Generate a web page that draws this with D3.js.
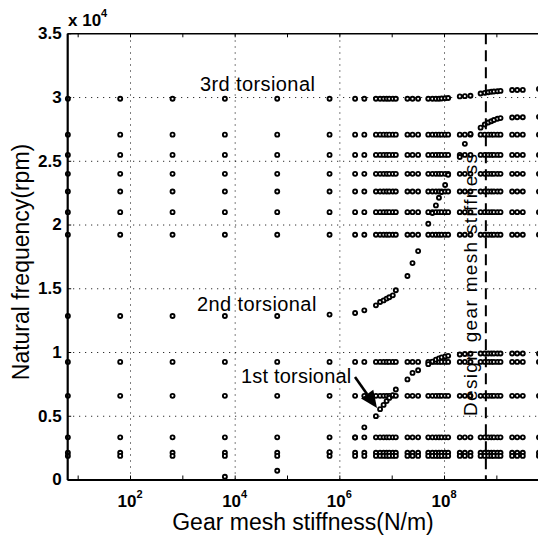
<!DOCTYPE html>
<html>
<head>
<meta charset="utf-8">
<script src="https://cdn.jsdelivr.net/npm/d3@7"></script>
<style>
  html, body { margin: 0; padding: 0; background: #fff; overflow: hidden; }
  svg { display: block; font-family: "Liberation Sans", Arial, Helvetica, sans-serif; }
</style>
</head>
<body>
<svg id="chart" width="538" height="540"></svg>
<script>
// gear mesh stiffness sweep (N/m)
const stiffness = [6.5, 65, 650, 6500, 65000, 650000,
    2e6, 3e6,
    5e6, 6e6, 7e6, 8e6, 9e6, 1.05e7, 1.2e7, 2e7, 2.5e7, 3.2e7,
    5e7, 6e7, 7e7, 8e7, 9e7, 1.05e8, 1.2e8, 2e8, 2.5e8, 3.2e8,
    5e8, 6e8, 7e8, 8e8, 9e8, 1.05e9, 1.2e9, 2e9, 2.5e9, 3.2e9,
    6.5e9];

// modes that stay put over the whole sweep (rpm)
const rowFreqs = [27050, 25460, 23975, 22590, 20970, 19200, 9225, 6560, 3305, 2100, 1850];

// modes that move with stiffness (rpm), one value per stiffness
const torsional1 = [null, null, null, 219, 689, 2150,
    3300, 4090,
    4970, 5520, 5850, 6150, 6400, 6620, 7060, 7850, 8360, 8570,
    9050, 9250, 9400, 9500, 9580, 9650, 9700, 9800, 9840, 9860,
    9880, 9880, 9880, 9880, 9880, 9880, 9880, 9880, 9880, 9880,
    9880];
const torsional2 = [12830, 12830, 12830, 12830, 12830, 12935,
    13060, 13270,
    13660, 13920, 14050, 14190, 14300, 14445, 14840, 15960, 16975, 17915,
    20060, 20900, 21500, 22100, 22550, 23100, 23900, 25300, 26330, 27100,
    27600, 27850, 28000, 28100, 28200, 28300, 28350, 28400, 28410, 28420,
    28450];
const torsional3 = [29870, 29870, 29870, 29870, 29870, 29870,
    29870, 29870,
    29870, 29870, 29870, 29870, 29870, 29870, 29870, 29870, 29870, 29870,
    29870, 29870, 29870, 29870, 29880, 29900, 29920, 30050, 30070, 30100,
    30280, 30330, 30380, 30420, 30440, 30460, 30480, 30550, 30550, 30560,
    30640];

const designStiffness = 6.3e8;

const xDecades = [1e1, 1e2, 1e3, 1e4, 1e5, 1e6, 1e7, 1e8, 1e9];
const xLabelDecades = [1e2, 1e4, 1e6, 1e8];
const yTicks = [0, 5000, 10000, 15000, 20000, 25000, 30000, 35000];
const yGrid = [5000, 10000, 15000, 20000, 25000, 30000];

const svg = d3.select("#chart");
const plotL = 67.2, plotR = 548.7, plotT = 33.3, plotB = 479.5;

const x = d3.scaleLog().domain([Math.pow(10, 0.8), 1e10]).range([plotL, plotR]);
const y = d3.scaleLinear().domain([0, 35000]).range([plotB, plotT]);

// dotted grid
svg.append("g")
    .attr("transform", `translate(0,${plotB})`)
    .call(d3.axisBottom(x).tickValues(xLabelDecades).tickSize(-(plotB - plotT)).tickFormat(""))
    .call(g => g.select(".domain").remove())
    .selectAll("line").attr("stroke", "#000").attr("stroke-dasharray", "1,5");

svg.append("g")
    .attr("transform", `translate(${plotL},0)`)
    .call(d3.axisLeft(y).tickValues(yGrid).tickSize(-(plotR - plotL)).tickFormat(""))
    .call(g => g.select(".domain").remove())
    .selectAll("line").attr("stroke", "#000").attr("stroke-dasharray", "1,5");

// natural frequency points
const points = [];
stiffness.forEach((k, i) => {
    rowFreqs.forEach(f => points.push([k, f]));
    [torsional1, torsional2, torsional3].forEach(s => {
        if (s[i] != null) points.push([k, s[i]]);
    });
});

svg.append("g")
    .selectAll("circle")
    .data(points)
    .join("circle")
    .attr("cx", d => x(d[0]))
    .attr("cy", d => y(d[1]))
    .attr("r", 2)
    .attr("fill", "#fff")
    .attr("stroke", "#000")
    .attr("stroke-width", 1.9);

// design stiffness marker
svg.append("line")
    .attr("x1", x(designStiffness)).attr("x2", x(designStiffness))
    .attr("y1", plotT).attr("y2", plotB)
    .attr("stroke", "#000")
    .attr("stroke-width", 2)
    .attr("stroke-dasharray", "11,6");

svg.append("text")
    .attr("transform", `translate(${x(designStiffness) - 9},416) rotate(-90)`)
    .attr("font-size", 19)
    .attr("textLength", 262)
    .attr("lengthAdjust", "spacing")
    .text("Design gear mesh stiffness");

// mode labels
svg.append("text").attr("x", 200).attr("y", 91).attr("font-size", 20)
    .attr("letter-spacing", 0.4).text("3rd torsional");
svg.append("text").attr("x", 197).attr("y", 310.5).attr("font-size", 20)
    .attr("letter-spacing", 0.4).text("2nd torsional");
svg.append("text").attr("x", 241).attr("y", 383).attr("font-size", 20)
    .attr("letter-spacing", 0.2).text("1st torsional");

// arrow to 1st torsional
const a0 = [355, 377], a1 = [377, 408];
const ang = Math.atan2(a1[1] - a0[1], a1[0] - a0[0]);
const hl = 17, hw = 7.5;
const base = [a1[0] - hl * Math.cos(ang), a1[1] - hl * Math.sin(ang)];
svg.append("line")
    .attr("x1", a0[0]).attr("y1", a0[1])
    .attr("x2", base[0]).attr("y2", base[1])
    .attr("stroke", "#000").attr("stroke-width", 2.6);
svg.append("path")
    .attr("d", d3.line()([
        a1,
        [base[0] + hw * Math.sin(ang), base[1] - hw * Math.cos(ang)],
        [base[0] - hw * Math.sin(ang), base[1] + hw * Math.cos(ang)]
    ]) + "Z")
    .attr("fill", "#000");

// axes
const styleAxis = (g, w) => {
    g.select(".domain").attr("stroke", "#000").attr("stroke-width", w);
    g.selectAll(".tick line").attr("stroke", "#000").attr("stroke-width", 1);
};

svg.append("g")
    .attr("transform", `translate(0,${plotT})`)
    .call(d3.axisTop(x).tickValues(xDecades).tickSizeInner(-4).tickSizeOuter(0).tickFormat(""))
    .call(g => styleAxis(g, 1.5));

svg.append("g")
    .attr("transform", `translate(${plotR},0)`)
    .call(d3.axisRight(y).tickValues(yTicks).tickSizeInner(-4).tickSizeOuter(0).tickFormat(""))
    .call(g => styleAxis(g, 1.5));

svg.append("g")
    .attr("transform", `translate(0,${plotB})`)
    .call(d3.axisBottom(x).tickValues(xDecades).tickSizeInner(-4).tickSizeOuter(0).tickFormat(""))
    .call(g => styleAxis(g, 2.2));

svg.append("g")
    .attr("transform", `translate(${plotL},0)`)
    .call(d3.axisLeft(y).tickValues(yTicks).tickSizeInner(-4).tickSizeOuter(0).tickPadding(5.5)
        .tickFormat(d => d / 1e4))
    .call(g => styleAxis(g, 2.2))
    .call(g => g.selectAll("text")
        .attr("font-size", 17).attr("font-weight", "bold").attr("fill", "#000")
        .attr("font-family", "Liberation Sans, Arial, sans-serif"));

// x tick labels with exponent
const xl = svg.append("g")
    .selectAll("text")
    .data(xLabelDecades)
    .join("text")
    .attr("x", d => x(d))
    .attr("y", 506.5)
    .attr("text-anchor", "middle")
    .attr("font-size", 17)
    .attr("font-weight", "bold");
xl.append("tspan").text("10");
xl.append("tspan").attr("dy", -9).attr("font-size", 11).text(d => Math.round(Math.log10(d)));

// y multiplier
const mult = svg.append("text")
    .attr("x", 68).attr("y", 26)
    .attr("font-size", 17).attr("font-weight", "bold");
mult.append("tspan").text("x 10");
mult.append("tspan").attr("dy", -9).attr("font-size", 11).text("4");

// axis titles
svg.append("text")
    .attr("x", 303).attr("y", 530)
    .attr("text-anchor", "middle")
    .attr("font-size", 23)
    .text("Gear mesh stiffness(N/m)");

svg.append("text")
    .attr("transform", "translate(29,262) rotate(-90)")
    .attr("text-anchor", "middle")
    .attr("font-size", 23)
    .text("Natural frequency(rpm)");
</script>
</body>
</html>
